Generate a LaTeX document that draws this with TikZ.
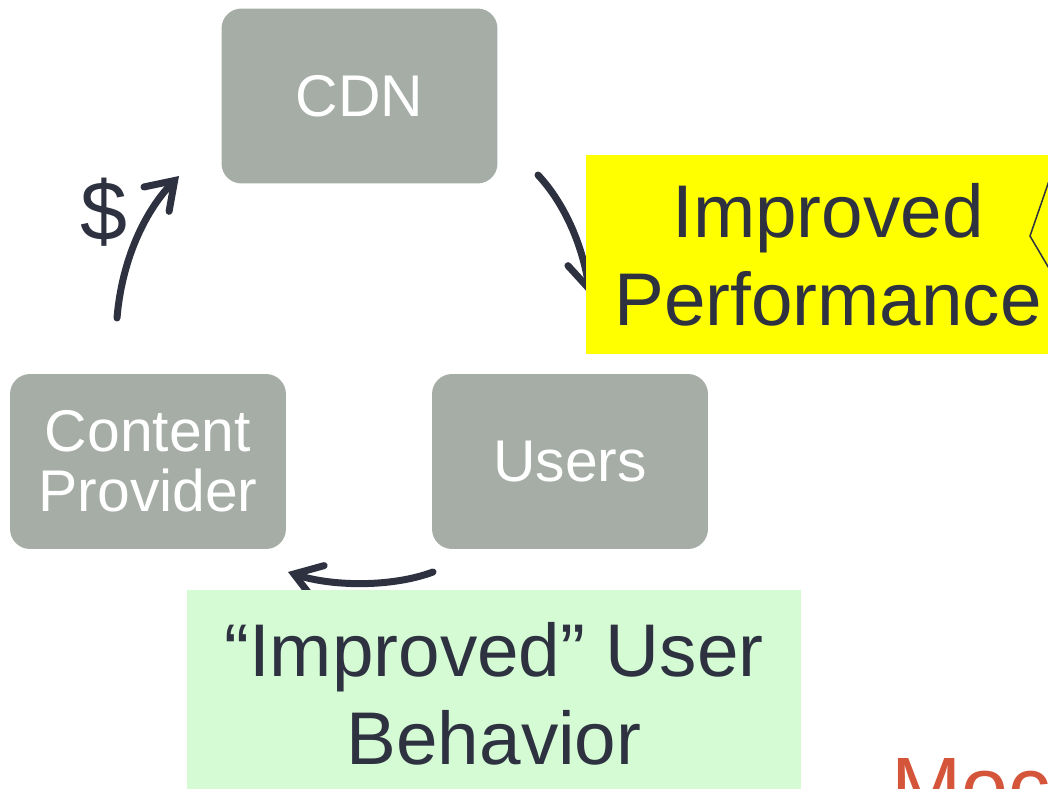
\documentclass[tikz,border=0pt]{standalone}
\usepackage{fontspec}
\setmainfont{Liberation Sans}
\usetikzlibrary{arrows.meta}
\definecolor{boxgray}{HTML}{A5ADA6}
\definecolor{ink}{HTML}{2E3140}
\definecolor{hilite}{HTML}{FFFF00}
\definecolor{mint}{HTML}{D4FBD4}
\definecolor{brick}{HTML}{D4553A}
\begin{document}
\begin{tikzpicture}[x=0.02cm,y=-0.02cm,
  party/.style={fill=boxgray, rounded corners=0.4cm, text=white, inner sep=0pt,
    minimum width=5.52cm, minimum height=3.5cm, align=center,
    font=\fontsize{33.5}{34}\selectfont},
  callout/.style={inner sep=0pt, text=ink, align=center,
    font=\fontsize{42.5}{50}\selectfont},
  flow/.style={draw=ink, line width=0.14cm, line cap=round,
    -{Straight Barb[length=0.52cm, width=0.7cm, line cap=round]}}]
\useasboundingbox (0,0) rectangle (1048,788);
\clip (0,0) rectangle (1048,788);

% the three parties of the cycle
\node[party] (cdn) at (359.5,96) {CDN};
\node[party] (cp) at (148,461.5) {Content\\Provider};
\node[party] (users) at (570,461.5) {Users};

% arrows around the cycle
\coordinate (a1s) at (117,318);
\coordinate (a1e) at (179,176);
\coordinate (a2s) at (538,175);
\coordinate (a2e) at (590,295);
\coordinate (a3s) at (433,572);
\coordinate (a3e) at (288,572);
\draw[flow] (a1s) .. controls (122,258) and (146,210) .. (a1e);
\draw[flow] (a2s) .. controls (566,205) and (583,248) .. (a2e);
\draw[flow] (a3s) .. controls (390,588) and (330,586) .. (a3e);
\node[text=ink, font=\fontsize{48}{48}\selectfont] (money) at (104,212) {\$};

% highlighted effects
\node[callout, fill=hilite, minimum width=9.68cm, minimum height=3.98cm]
  (perf) at (828,254.5) {Improved\\Performance};
\draw[draw=ink, line width=0.03cm] (1050,178) -- (1030,236) -- (1050,270);
\node[callout, fill=mint, minimum width=12.28cm, minimum height=4.16cm]
  (behav) at (494,694) {“Improved” User\\Behavior};

% next heading, running off the page
\node[text=brick, inner sep=0pt, anchor=base west, font=\fontsize{48}{48}\selectfont]
  (next) at (891,816) {Moc};
\end{tikzpicture}
\end{document}
